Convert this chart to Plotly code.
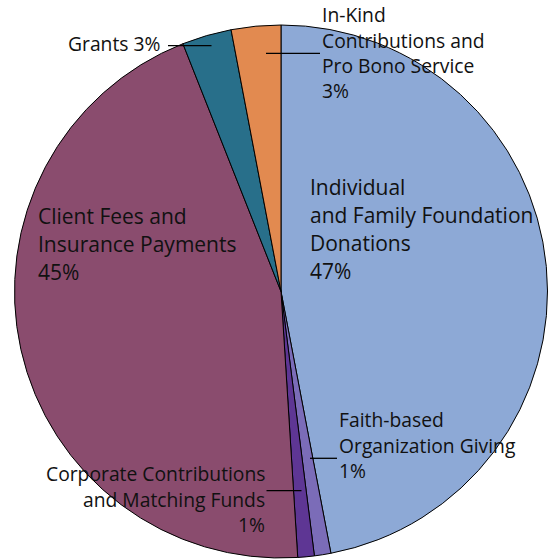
import plotly.graph_objects as go

W, H = 549, 560
OFF = 0  # page body margin removed below

labels = ["Individual and Family Foundation Donations",
          "Faith-based Organization Giving",
          "Corporate Contributions and Matching Funds",
          "Client Fees and Insurance Payments",
          "Grants",
          "In-Kind Contributions and Pro Bono Service"]
values = [47, 1, 1, 45, 3, 3]
colors = ["#8DA9D6", "#7B6CB8", "#5E3694", "#8A4C6E", "#286F8A", "#E28A50"]

# label text lines (drawn as annotations)
label_lines = {
    "ind": ["Individual", "and Family Foundation", "Donations", "47%"],
    "cli": ["Client Fees and", "Insurance Payments", "45%"],
    "fai": ["Faith-based", "Organization Giving", "1%"],
    "cor": ["Corporate Contributions", "and Matching Funds", "1%"],
    "gra": ["Grants 3%"],
    "ink": ["In-Kind", "Contributions and", "Pro Bono Service", "3%"],
}

FONT = "Open Sans"
BIG, SMALL = 21, 19.3

# pie geometry (window pixels)
cx, cy, r = 281, 291.5, 266.5


def px(x):
    return (x - OFF) / W


def py(y):
    return 1 - (y - OFF) / H


fig = go.Figure(go.Pie(
    labels=labels, values=values, sort=False, direction="clockwise", rotation=0,
    marker=dict(colors=colors, line=dict(color="black", width=1)),
    textinfo="none", hoverinfo="label+percent", showlegend=False,
    domain=dict(x=[px(cx - r), px(cx + r)], y=[py(cy + r), py(cy - r)]),
))

annotations = []


def add_lines(key, x, baselines, size, anchor="left"):
    for text, b in zip(label_lines[key], baselines):
        annotations.append(dict(
            x=px(x), y=py(b + 0.28 * size + 1), xref="paper", yref="paper",
            text=text, showarrow=False, xanchor=anchor, yanchor="bottom",
            font=dict(family=FONT, size=size, color="#111111"),
        ))


add_lines("ind", 308, [196.5, 224.5, 252.5, 280.5], BIG)
add_lines("cli", 36, [225.5, 253.5, 281], BIG)
add_lines("fai", 337, [428.5, 454.5, 480], SMALL)
add_lines("cor", 267, [482.5, 508.5, 533.5], SMALL, anchor="right")
add_lines("gra", 66, [52.5], SMALL)
add_lines("ink", 320, [23.5, 49.5, 74.5, 100], SMALL)

shapes = []
for x0, x1, y in [(310, 337, 458.3), (266.5, 301.5, 490.7), (168, 211.5, 45.7), (266, 320, 53.3)]:
    shapes.append(dict(type="line", xref="paper", yref="paper",
                       x0=px(x0), x1=px(x1), y0=py(y), y1=py(y),
                       line=dict(color="black", width=1.3)))

fig.update_layout(
    width=W, height=H, margin=dict(l=0, r=0, t=0, b=0),
    paper_bgcolor="white", plot_bgcolor="white",
    annotations=annotations, shapes=shapes,
)

fig.write_html("out.html", config={"displayModeBar": False},
               post_script="document.body.style.margin='0px';")
